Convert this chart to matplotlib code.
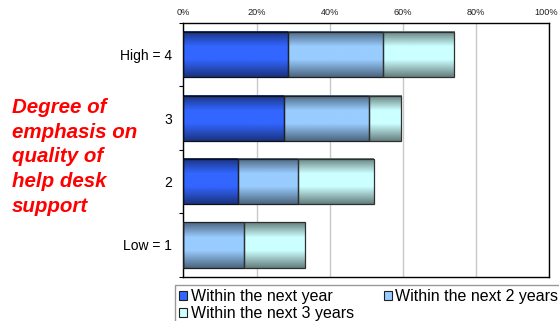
import numpy as np
import matplotlib
matplotlib.use("Agg")
import matplotlib.pyplot as plt
from matplotlib.patches import Patch
from matplotlib.ticker import FixedLocator, PercentFormatter
from matplotlib.transforms import ScaledTranslation

plt.rcParams['font.family'] = ['Liberation Sans', 'DejaVu Sans']

categories = ["Low = 1", "2", "3", "High = 4"]
series_names = ["Within the next year", "Within the next 2 years", "Within the next 3 years"]
next_year = [0.0, 14.9, 27.5, 28.7]
next_2_years = [16.7, 16.5, 23.2, 25.9]
next_3_years = [16.6, 20.6, 8.9, 19.4]
x_ticks = [0, 20, 40, 60, 80, 100]
side_title = "Degree of\nemphasis on\nquality of\nhelp desk\nsupport"

colors = ["#3366ff", "#99ccff", "#ccffff"]
edge_colors = ["#101010", "#202020", "#303030"]

fig = plt.figure(figsize=(5.59, 3.21), dpi=100)
ax = fig.add_axes([183.3 / 559, 1 - 276.7 / 321, 366 / 559, (276.7 - 23) / 321])

y = np.arange(len(categories))
series = [next_year, next_2_years, next_3_years]
left = np.zeros(len(categories))
containers = []
for vals, c, ec in zip(series, colors, edge_colors):
    cont = ax.barh(y, vals, left=left, height=0.71, color=c, edgecolor=ec,
                   linewidth=0.9, zorder=3)
    containers.append(cont)
    left = left + np.array(vals)

# vertical gradient shading for each bar
t = np.linspace(0, 1, 64)
prof = np.interp(t, [0, 0.33, 0.62, 1], [0.5, 1.0, 1.0, 0.5])
for cont, c in zip(containers, colors):
    base = np.array(matplotlib.colors.to_rgb(c))
    img = (prof[:, None] * base[None, :])[:, None, :]
    for p in cont.patches:
        x0, w = p.get_x(), p.get_width()
        y0, h = p.get_y(), p.get_height()
        if w <= 0:
            continue
        ax.imshow(img, extent=(x0, x0 + w, y0, y0 + h), origin='upper',
                  aspect='auto', zorder=2.5, interpolation='bilinear')
        p.set_facecolor('none')

ax.set_xlim(0, 100)
ax.set_ylim(-0.5, len(categories) - 0.5)

ax.xaxis.tick_top()
ax.set_xticks(x_ticks)
ax.xaxis.set_major_formatter(PercentFormatter(decimals=0))
ax.tick_params(axis='x', length=0, labelsize=6.6, pad=4, labelcolor='#222222')
ax.xaxis.set_minor_locator(FixedLocator([0, 100]))
ax.tick_params(axis='x', which='minor', length=3, direction='inout', width=0.8)

ax.set_yticks(y)
ax.set_yticklabels(categories)
ax.tick_params(axis='y', length=0, labelsize=10, pad=8)
ax.yaxis.set_minor_locator(FixedLocator(np.arange(-0.5, len(categories), 1.0)))
ax.tick_params(axis='y', which='minor', length=3, width=0.8, direction='out')

ax.grid(axis='x', color='#c8c8c8', linewidth=1.0, zorder=0)
ax.set_axisbelow(True)
for s in ax.spines.values():
    s.set_linewidth(1.0)
    s.set_color('black')

# nudge the last top tick label so it stays inside the canvas
last_tick = ax.xaxis.get_major_ticks()[-1]
last_tick.label2.set_transform(last_tick.label2.get_transform()
                               + ScaledTranslation(-3 / 100, 0, fig.dpi_scale_trans))

fig.text(12 / 559, 1 - 98 / 321, side_title, color='#ff0000', fontsize=14.8,
         fontweight='bold', fontstyle='italic', ha='left', va='top',
         linespacing=1.38)

handles = [Patch(facecolor=c, edgecolor='#202020', linewidth=0.8) for c in colors]
order = [0, 2, 1]
leg = fig.legend([handles[i] for i in order], [series_names[i] for i in order],
                 loc='upper left', bbox_to_anchor=(174.7 / 559, 1 - 284.7 / 321),
                 ncol=2, fontsize=11.5, frameon=True, fancybox=False,
                 handlelength=0.5, handleheight=0.5, handletextpad=0.2,
                 columnspacing=1.9, labelspacing=0.12, borderpad=0.3,
                 borderaxespad=0)
leg.get_frame().set_edgecolor('#808080')
leg.get_frame().set_linewidth(1.0)

fig.savefig("out.png", dpi=100)
